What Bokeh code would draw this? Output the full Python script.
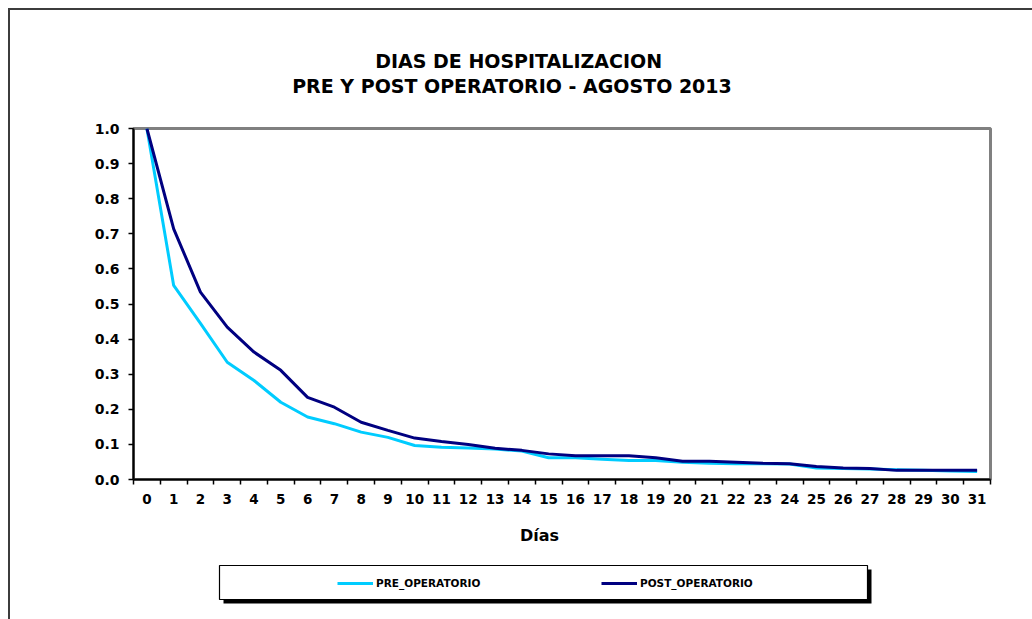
from bokeh.plotting import figure
from bokeh.layouts import column
from bokeh.models import (Range1d, FixedTicker, PrintfTickFormatter, LinearAxis,
                          Legend, LegendItem, BoxAnnotation)
from bokeh.embed import file_html
from bokeh.resources import INLINE

# ---------------- data ----------------
days = list(range(32))
day_labels = [str(d) for d in days]
pre_operatorio = [1.000, 0.553, 0.445, 0.334, 0.282, 0.220, 0.178, 0.159, 0.135, 0.120,
                  0.097, 0.092, 0.090, 0.087, 0.081, 0.062, 0.062, 0.058, 0.054, 0.054,
                  0.049, 0.046, 0.045, 0.045, 0.044, 0.033, 0.031, 0.030, 0.028, 0.026,
                  0.024, 0.023]
post_operatorio = [1.000, 0.714, 0.534, 0.434, 0.363, 0.311, 0.234, 0.206, 0.163, 0.140,
                   0.118, 0.108, 0.100, 0.089, 0.083, 0.073, 0.068, 0.068, 0.068, 0.062,
                   0.052, 0.052, 0.049, 0.046, 0.045, 0.037, 0.033, 0.031, 0.026, 0.026,
                   0.026, 0.026]
y_ticks = [0.0, 0.1, 0.2, 0.3, 0.4, 0.5, 0.6, 0.7, 0.8, 0.9, 1.0]
title_lines = ["DIAS DE HOSPITALIZACION", "PRE Y POST OPERATORIO  -  AGOSTO 2013"]
x_title = "Días"
series_names = ["PRE_OPERATORIO", "POST_OPERATORIO"]
series_colors = ["#00CCFF", "#000080"]

FONT = "DejaVu Sans"

# ---------------- layout (page pixels) ----------------
OX = OY = 10                                  # content origin (after margin + border)
PAGE_W, PAGE_H = 1032, 619
SPLIT = 547                                   # chart figure / legend strip boundary
FL, FT, FR, FB = 133, 128, 990, 479          # plot-area frame, page pixels
X0, X1 = days[0] - 0.5, days[-1] + 0.5
Y0, Y1 = 0.0, 1.0


def dx(px):
    return round(X0 + (px - FL) * (X1 - X0) / (FR - FL), 2)


p = figure(width=PAGE_W - OX, height=SPLIT - OY, output_backend="svg",
           toolbar_location=None, x_range=Range1d(X0, X1), y_range=Range1d(Y0, Y1),
           min_border_left=FL - OX, min_border_right=PAGE_W - FR,
           min_border_top=FT - OY, min_border_bottom=SPLIT - FB)
p.background_fill_color = "white"
p.border_fill_color = "white"
p.grid.visible = False
p.outline_line_color = "#808080"
p.outline_line_width = 3

# x axis: ticks on category boundaries, labels at centres
xa = p.xaxis[0]
xa.ticker = FixedTicker(ticks=days, minor_ticks=[d - 0.5 for d in days] + [days[-1] + 0.5])
xa.major_label_overrides = {d: s for d, s in zip(days, day_labels)}
xa.major_tick_in = 0
xa.major_tick_out = 0
xa.minor_tick_in = 0
xa.minor_tick_out = 5
xa.minor_tick_line_color = "black"
xa.minor_tick_line_width = 1.5
xa.axis_line_color = "black"
xa.axis_line_width = 2
xa.major_label_standoff = 9
xa.major_label_text_align = "right"
xa.major_label_text_font = FONT
xa.major_label_text_font_style = "bold"
xa.major_label_text_font_size = "13.5px"
xa.major_label_text_color = "black"

ya = p.yaxis[0]
ya.ticker = FixedTicker(ticks=y_ticks)
ya.formatter = PrintfTickFormatter(format="%.1f")
ya.major_tick_in = 0
ya.major_tick_out = 5
ya.major_tick_line_color = "black"
ya.major_tick_line_width = 1.5
ya.minor_tick_line_color = None
ya.axis_line_color = "black"
ya.axis_line_width = 2
ya.major_label_standoff = 9
ya.major_label_text_font = FONT
ya.major_label_text_font_style = "bold"
ya.major_label_text_font_size = "14px"
ya.major_label_text_color = "black"


def text_axis(text, px, standoff, size, place):
    pos = dx(px)
    ax = LinearAxis(ticker=FixedTicker(ticks=[pos], minor_ticks=[]),
                    major_label_overrides={pos: text},
                    axis_line_color=None, major_tick_line_color=None,
                    minor_tick_line_color=None, major_tick_in=0, major_tick_out=0,
                    minor_tick_in=0, minor_tick_out=0, major_label_standoff=standoff,
                    major_label_text_font=FONT, major_label_text_font_style="bold",
                    major_label_text_font_size=size, major_label_text_color="black")
    p.add_layout(ax, place)
    return ax


# ---------------- lines ----------------
p.line(days, pre_operatorio, line_color=series_colors[0], line_width=3)
p.line(days, post_operatorio, line_color=series_colors[1], line_width=3)

# ---------------- title (two lines) & axis title ----------------
text_axis(title_lines[1], 518, 32, "19px", "above")
text_axis(title_lines[0], 518, 0, "19px", "above")
text_axis(x_title, 539, 19, "16px", "below")

# ---------------- legend strip (page-pixel coordinates; frame aligned with chart) ----------
lp = figure(width=PAGE_W - OX, height=PAGE_H - SPLIT, output_backend="svg",
            toolbar_location=None, x_range=Range1d(FL, FR),
            y_range=Range1d(PAGE_H, SPLIT), x_axis_type=None, y_axis_type=None,
            min_border=0)
lp.outline_line_color = None
lp.background_fill_color = "white"
lp.border_fill_color = "white"

lp.add_layout(BoxAnnotation(left=223, right=871, top=569, bottom=603,
                            fill_color="black", fill_alpha=1, line_alpha=0))
lp.add_layout(BoxAnnotation(left=219, right=867, top=565, bottom=599,
                            fill_color="white", fill_alpha=1, line_color="black",
                            line_alpha=1, line_width=1.2))

# legend keys: same series, drawn in this strip (their data lie outside its view)
leg_renderers = [lp.line(days, vals, line_color=c, line_width=3)
                 for vals, c in zip([pre_operatorio, post_operatorio], series_colors)]
legend = Legend(items=[LegendItem(label=n, renderers=[r])
                       for n, r in zip(series_names, leg_renderers)],
                orientation="horizontal", location=(337 - FL, PAGE_H - 576 - 14),
                glyph_width=36, glyph_height=14, label_height=14, label_width=110,
                label_standoff=3, spacing=115, padding=0, margin=0,
                border_line_color=None, background_fill_alpha=0,
                label_text_font=FONT, label_text_font_style="bold",
                label_text_font_size="10.5px", label_text_color="black")
lp.add_layout(legend)

layout = column(p, lp, spacing=0, margin=(8, 0, 0, 8),
                styles={"border-left": "2px solid #3c3c3c",
                        "border-top": "2px solid #3c3c3c"})

open("out.html", "w").write(file_html(layout, INLINE))
